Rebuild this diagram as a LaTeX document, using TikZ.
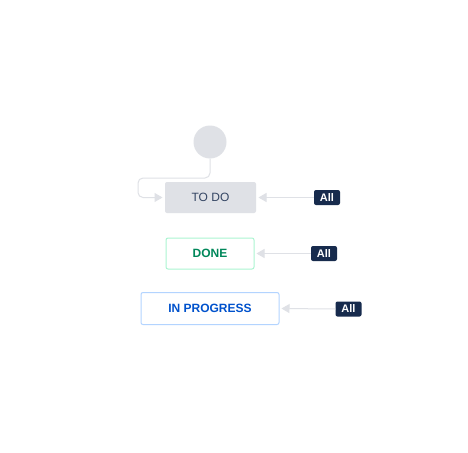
\documentclass[tikz,border=0pt]{standalone}
\usepackage{fontspec}
\setmainfont{Liberation Sans}
\usetikzlibrary{arrows.meta}
\definecolor{edgegray}{HTML}{DFE1E6}
\definecolor{todofill}{HTML}{DFE1E6}
\definecolor{todotext}{HTML}{344563}
\definecolor{doneborder}{HTML}{ABF5D1}
\definecolor{donetext}{HTML}{00875A}
\definecolor{progborder}{HTML}{B3D4FF}
\definecolor{progtext}{HTML}{0052CC}
\definecolor{badge}{HTML}{172B4D}
\tikzset{
  statusbox/.style={rectangle, rounded corners=2pt, inner sep=0pt, line width=1pt, font=\fontsize{12}{14}\selectfont},
  allbadge/.style={rectangle, rounded corners=2pt, fill=badge, text=white, inner sep=0pt, minimum height=15pt, font=\fontsize{11}{13}\selectfont\bfseries},
  conn/.style={draw=edgegray, line width=1pt, -{Triangle[length=8pt,width=9pt,fill=edgegray]}},
}
\begin{document}
\begin{tikzpicture}[x=1pt,y=-1pt]
\useasboundingbox[fill=white] (0,0) rectangle (468,452);
\node[circle, fill=edgegray, minimum size=33pt, inner sep=0pt] (start) at (210,142) {};
\node[statusbox, fill=todofill, text=todotext, minimum width=91pt, minimum height=31pt] (todo) at (210.5,197.5) {TO DO};
\node[statusbox, draw=doneborder, fill=white, text=donetext, minimum width=88pt, minimum height=31pt, font=\fontsize{12}{14}\selectfont\bfseries] (done) at (210,253.5) {DONE};
\node[statusbox, draw=progborder, fill=white, text=progtext, minimum width=138pt, minimum height=32pt, font=\fontsize{12}{14}\selectfont\bfseries] (prog) at (210,308.5) {IN PROGRESS};
\node[allbadge, minimum width=26pt] (a1) at (327,197.5) {All};
\node[allbadge, minimum width=26pt] (a2) at (324,253.5) {All};
\node[allbadge, minimum width=26pt] (a3) at (348.5,309) {All};
\draw[conn, rounded corners=5pt] (start.south) -- (210,178) -- (138,178) -- (138,197.5) -- ([xshift=-2pt]todo.west);
\draw[conn] (a1.west) -- ([xshift=2pt]todo.east);
\draw[conn] (a2.west) -- ([xshift=2pt]done.east);
\draw[conn] (a3.west) -- ([xshift=2pt]prog.east);
\end{tikzpicture}
\end{document}
